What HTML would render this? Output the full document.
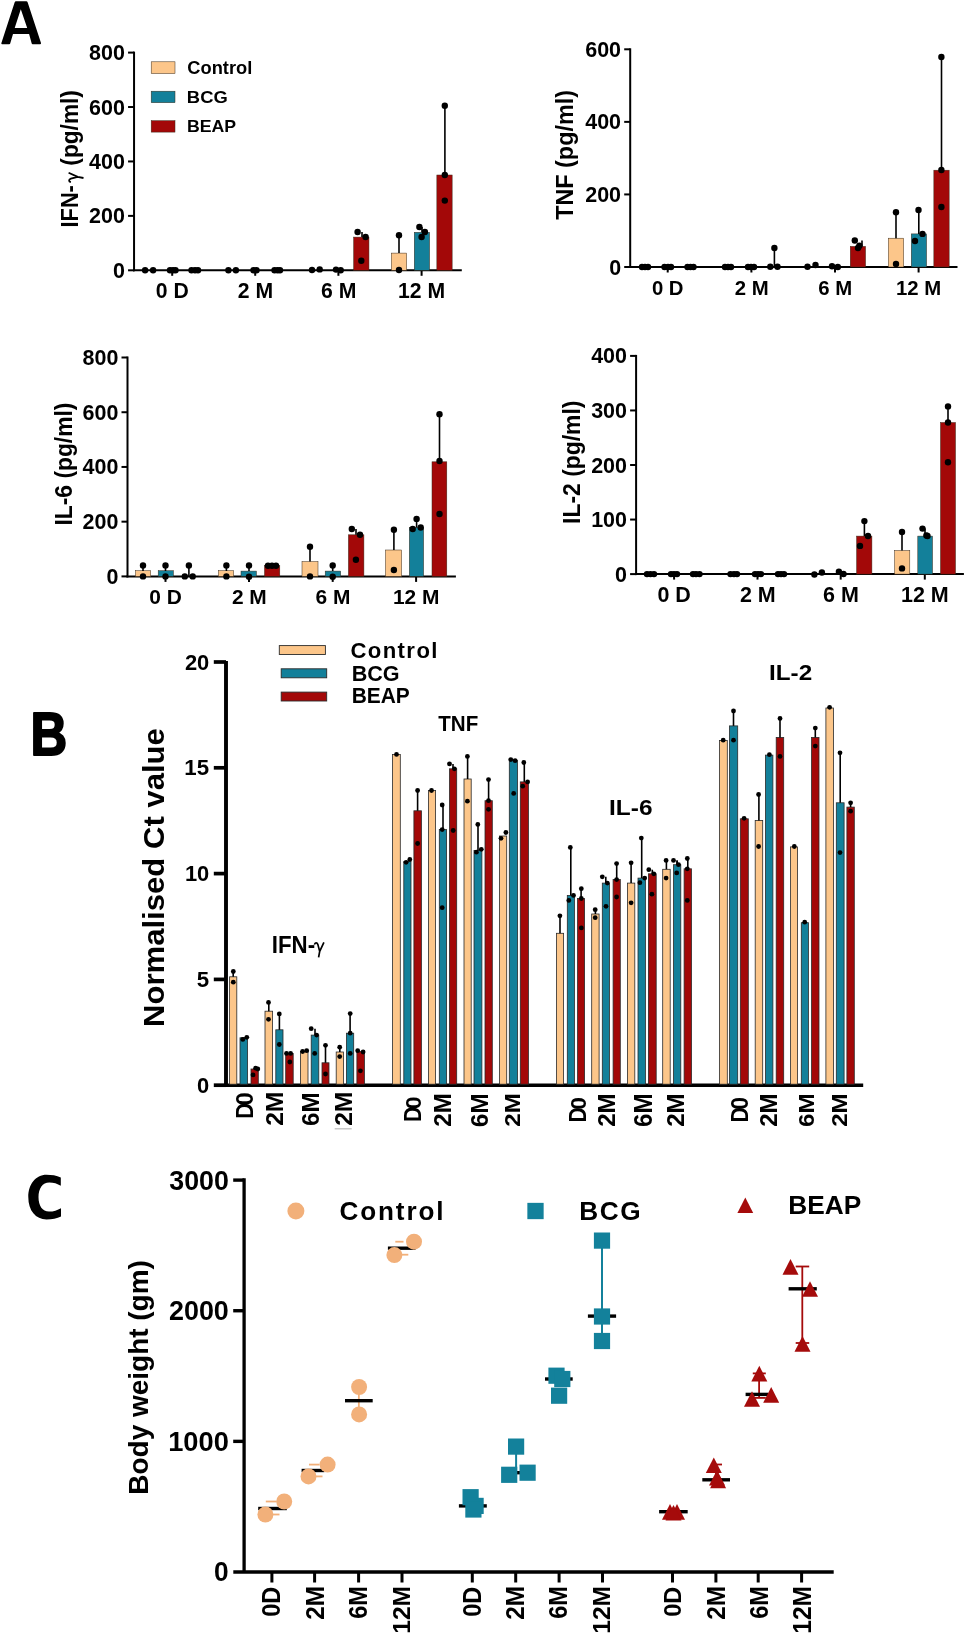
<!DOCTYPE html>
<html><head><meta charset="utf-8"><style>
html,body{margin:0;padding:0;background:#fff;}
svg{display:block;will-change:transform;}
text{font-family:"Liberation Sans",sans-serif;font-weight:bold;font-kerning:none;}
</style></head><body>
<svg width="968" height="1637" viewBox="0 0 968 1637">
<rect width="968" height="1637" fill="#fff"/>
<path fill-rule="evenodd" d="M16,1.3 L26.3,1.3 Q27.3,1.3 27.7,2.4 L41,43 Q41.2,44.3 40,44.3 L32.6,44.3 Q31.9,44.3 31.7,43.6 L29.1,34.1 L13,34.1 L10.2,43.6 Q9.9,44.3 9.2,44.3 L2.2,44.3 Q1,44.3 1.4,43 L14.6,2.4 Q15,1.3 16,1.3 Z M20.8,9.3 L14.7,27.9 L27.2,27.9 Z" fill="#000"/>
<text x="30.4" y="754.6" font-size="61.48" textLength="36.71" lengthAdjust="spacingAndGlyphs" fill="#000" stroke="#000" stroke-width="2" stroke-linejoin="round">B</text>
<path d="M60.8,1177.6 C56.5,1175.5 51.5,1174.8 46.5,1174.8 C35.5,1174.8 28.3,1184.5 28.3,1197.1 C28.3,1211 35.8,1219.4 46.5,1219.4 C52,1219.4 57,1218.5 61,1216.5 L61,1208.2 C57.5,1210.2 53.5,1211.6 49,1211.6 C42.5,1211.6 38.5,1206 38.5,1197 C38.5,1188.5 42.5,1182.5 49.3,1182.5 C53.5,1182.5 57.5,1183.7 60.8,1185.8 Z" fill="#000"/>
<line x1="134.05" y1="51.6" x2="134.05" y2="271.3" stroke="#000" stroke-width="2" stroke-linecap="butt"/>
<line x1="133.05" y1="270.3" x2="461.8" y2="270.3" stroke="#000" stroke-width="2" stroke-linecap="butt"/>
<line x1="128.05" y1="270.3" x2="134.05" y2="270.3" stroke="#000" stroke-width="2" stroke-linecap="butt"/>
<text x="112.98" y="277.8" font-size="21.48" textLength="11.95" lengthAdjust="spacingAndGlyphs" fill="#000">0</text>
<line x1="128.05" y1="215.88" x2="134.05" y2="215.88" stroke="#000" stroke-width="2" stroke-linecap="butt"/>
<text x="89.09" y="223.38" font-size="21.48" textLength="35.84" lengthAdjust="spacingAndGlyphs" fill="#000">200</text>
<line x1="128.05" y1="161.45" x2="134.05" y2="161.45" stroke="#000" stroke-width="2" stroke-linecap="butt"/>
<text x="89.09" y="168.95" font-size="21.48" textLength="35.84" lengthAdjust="spacingAndGlyphs" fill="#000">400</text>
<line x1="128.05" y1="107.03" x2="134.05" y2="107.03" stroke="#000" stroke-width="2" stroke-linecap="butt"/>
<text x="89.09" y="114.53" font-size="21.48" textLength="35.84" lengthAdjust="spacingAndGlyphs" fill="#000">600</text>
<line x1="128.05" y1="52.6" x2="134.05" y2="52.6" stroke="#000" stroke-width="2" stroke-linecap="butt"/>
<text x="89.09" y="60.1" font-size="21.48" textLength="35.84" lengthAdjust="spacingAndGlyphs" fill="#000">800</text>
<line x1="172.2" y1="270.3" x2="172.2" y2="275.8" stroke="#000" stroke-width="2" stroke-linecap="butt"/>
<text x="155.73" y="298.1" font-size="21.2" textLength="32.98" lengthAdjust="spacingAndGlyphs" fill="#000">0 D</text>
<line x1="255.2" y1="270.3" x2="255.2" y2="275.8" stroke="#000" stroke-width="2" stroke-linecap="butt"/>
<text x="237.87" y="298.1" font-size="21.2" textLength="35.33" lengthAdjust="spacingAndGlyphs" fill="#000">2 M</text>
<line x1="338.4" y1="270.3" x2="338.4" y2="275.8" stroke="#000" stroke-width="2" stroke-linecap="butt"/>
<text x="321.05" y="298.1" font-size="21.2" textLength="35.33" lengthAdjust="spacingAndGlyphs" fill="#000">6 M</text>
<line x1="421.6" y1="270.3" x2="421.6" y2="275.8" stroke="#000" stroke-width="2" stroke-linecap="butt"/>
<text x="398.08" y="298.1" font-size="21.2" textLength="47.12" lengthAdjust="spacingAndGlyphs" fill="#000">12 M</text>
<rect x="353.65" y="237.1" width="15.3" height="33.2" fill="#A30808" stroke="#3a2a1a" stroke-width="0.5"/>
<rect x="391.35" y="253.1" width="15.3" height="17.2" fill="#FCC68A" stroke="#3a2a1a" stroke-width="0.5"/>
<rect x="414.25" y="232.3" width="15.3" height="38" fill="#13809A" stroke="#3a2a1a" stroke-width="0.5"/>
<rect x="436.85" y="175" width="15.3" height="95.3" fill="#A30808" stroke="#3a2a1a" stroke-width="0.5"/>
<line x1="399" y1="235.3" x2="399" y2="253" stroke="#000" stroke-width="1.6" stroke-linecap="butt"/>
<line x1="444.9" y1="105.8" x2="444.9" y2="175" stroke="#000" stroke-width="1.6" stroke-linecap="butt"/>
<line x1="422" y1="227" x2="422" y2="232.3" stroke="#000" stroke-width="1.6" stroke-linecap="butt"/>
<line x1="362" y1="232" x2="362" y2="237" stroke="#000" stroke-width="1.6" stroke-linecap="butt"/>
<circle cx="145.1" cy="270.3" r="3.2" fill="#000"/>
<circle cx="153.1" cy="270.3" r="3.2" fill="#000"/>
<circle cx="170" cy="270.3" r="3.2" fill="#000"/>
<circle cx="173" cy="270.3" r="3.2" fill="#000"/>
<circle cx="175.5" cy="270.3" r="3.2" fill="#000"/>
<circle cx="191.5" cy="270.3" r="3.2" fill="#000"/>
<circle cx="195" cy="270.3" r="3.2" fill="#000"/>
<circle cx="198" cy="270.3" r="3.2" fill="#000"/>
<circle cx="228.4" cy="270.3" r="3.2" fill="#000"/>
<circle cx="235.9" cy="270.3" r="3.2" fill="#000"/>
<circle cx="253.5" cy="270.3" r="3.2" fill="#000"/>
<circle cx="256.5" cy="270.3" r="3.2" fill="#000"/>
<circle cx="274.5" cy="270.3" r="3.2" fill="#000"/>
<circle cx="277.5" cy="270.3" r="3.2" fill="#000"/>
<circle cx="280" cy="270.3" r="3.2" fill="#000"/>
<circle cx="312" cy="270" r="3.2" fill="#000"/>
<circle cx="319.7" cy="269.4" r="3.2" fill="#000"/>
<circle cx="336" cy="269.6" r="3.2" fill="#000"/>
<circle cx="340.7" cy="270.3" r="3.2" fill="#000"/>
<circle cx="357.6" cy="232" r="3.2" fill="#000"/>
<circle cx="365.6" cy="237" r="3.2" fill="#000"/>
<circle cx="361.3" cy="260.7" r="3.2" fill="#000"/>
<circle cx="399" cy="235.3" r="3.2" fill="#000"/>
<circle cx="399" cy="270" r="3.2" fill="#000"/>
<circle cx="419.4" cy="227" r="3.2" fill="#000"/>
<circle cx="424.9" cy="232" r="3.2" fill="#000"/>
<circle cx="421.6" cy="237" r="3.2" fill="#000"/>
<circle cx="444.8" cy="105.8" r="3.2" fill="#000"/>
<circle cx="444.8" cy="175" r="3.2" fill="#000"/>
<circle cx="444.8" cy="200.6" r="3.2" fill="#000"/>
<line x1="630.2" y1="48.3" x2="630.2" y2="268" stroke="#000" stroke-width="2" stroke-linecap="butt"/>
<line x1="629.2" y1="267" x2="957.5" y2="267" stroke="#000" stroke-width="2" stroke-linecap="butt"/>
<line x1="624.2" y1="267" x2="630.2" y2="267" stroke="#000" stroke-width="2" stroke-linecap="butt"/>
<text x="609.13" y="274.5" font-size="21.48" textLength="11.95" lengthAdjust="spacingAndGlyphs" fill="#000">0</text>
<line x1="624.2" y1="194.43" x2="630.2" y2="194.43" stroke="#000" stroke-width="2" stroke-linecap="butt"/>
<text x="585.24" y="201.93" font-size="21.48" textLength="35.84" lengthAdjust="spacingAndGlyphs" fill="#000">200</text>
<line x1="624.2" y1="121.87" x2="630.2" y2="121.87" stroke="#000" stroke-width="2" stroke-linecap="butt"/>
<text x="585.24" y="129.37" font-size="21.48" textLength="35.84" lengthAdjust="spacingAndGlyphs" fill="#000">400</text>
<line x1="624.2" y1="49.3" x2="630.2" y2="49.3" stroke="#000" stroke-width="2" stroke-linecap="butt"/>
<text x="585.24" y="56.8" font-size="21.48" textLength="35.84" lengthAdjust="spacingAndGlyphs" fill="#000">600</text>
<line x1="667.7" y1="267" x2="667.7" y2="272.5" stroke="#000" stroke-width="2" stroke-linecap="butt"/>
<text x="651.9" y="295.3" font-size="20.34" textLength="31.65" lengthAdjust="spacingAndGlyphs" fill="#000">0 D</text>
<line x1="751.4" y1="267" x2="751.4" y2="272.5" stroke="#000" stroke-width="2" stroke-linecap="butt"/>
<text x="734.78" y="295.3" font-size="20.34" textLength="33.9" lengthAdjust="spacingAndGlyphs" fill="#000">2 M</text>
<line x1="835" y1="267" x2="835" y2="272.5" stroke="#000" stroke-width="2" stroke-linecap="butt"/>
<text x="818.36" y="295.3" font-size="20.34" textLength="33.9" lengthAdjust="spacingAndGlyphs" fill="#000">6 M</text>
<line x1="918.6" y1="267" x2="918.6" y2="272.5" stroke="#000" stroke-width="2" stroke-linecap="butt"/>
<text x="896.03" y="295.3" font-size="20.34" textLength="45.21" lengthAdjust="spacingAndGlyphs" fill="#000">12 M</text>
<text transform="translate(573.3,219.86) rotate(-90)" font-size="24.24" textLength="129.83" lengthAdjust="spacingAndGlyphs" fill="#000">TNF (pg/ml)</text>
<rect x="850.25" y="246.4" width="15.3" height="20.6" fill="#A30808" stroke="#3a2a1a" stroke-width="0.5"/>
<rect x="888.35" y="238.2" width="15.3" height="28.8" fill="#FCC68A" stroke="#3a2a1a" stroke-width="0.5"/>
<rect x="911.25" y="233.9" width="15.3" height="33.1" fill="#13809A" stroke="#3a2a1a" stroke-width="0.5"/>
<rect x="933.85" y="170.2" width="15.3" height="96.8" fill="#A30808" stroke="#3a2a1a" stroke-width="0.5"/>
<line x1="896" y1="212.3" x2="896" y2="238.2" stroke="#000" stroke-width="1.6" stroke-linecap="butt"/>
<line x1="918.8" y1="210" x2="918.8" y2="233.9" stroke="#000" stroke-width="1.6" stroke-linecap="butt"/>
<line x1="941.5" y1="57" x2="941.5" y2="170.2" stroke="#000" stroke-width="1.6" stroke-linecap="butt"/>
<line x1="774.4" y1="248" x2="774.4" y2="267" stroke="#000" stroke-width="1.6" stroke-linecap="butt"/>
<line x1="862" y1="240.5" x2="862" y2="246.4" stroke="#000" stroke-width="1.6" stroke-linecap="butt"/>
<circle cx="642" cy="267" r="3.2" fill="#000"/>
<circle cx="645" cy="267" r="3.2" fill="#000"/>
<circle cx="648" cy="267" r="3.2" fill="#000"/>
<circle cx="664.5" cy="267" r="3.2" fill="#000"/>
<circle cx="668" cy="267" r="3.2" fill="#000"/>
<circle cx="671" cy="267" r="3.2" fill="#000"/>
<circle cx="687.5" cy="267" r="3.2" fill="#000"/>
<circle cx="690.5" cy="267" r="3.2" fill="#000"/>
<circle cx="693.5" cy="267" r="3.2" fill="#000"/>
<circle cx="725" cy="267" r="3.2" fill="#000"/>
<circle cx="728" cy="267" r="3.2" fill="#000"/>
<circle cx="731" cy="267" r="3.2" fill="#000"/>
<circle cx="748" cy="267" r="3.2" fill="#000"/>
<circle cx="751" cy="267" r="3.2" fill="#000"/>
<circle cx="754" cy="267" r="3.2" fill="#000"/>
<circle cx="770.3" cy="266.8" r="3.2" fill="#000"/>
<circle cx="777.5" cy="266.8" r="3.2" fill="#000"/>
<circle cx="774.4" cy="248" r="3.2" fill="#000"/>
<circle cx="807.5" cy="266.8" r="3.2" fill="#000"/>
<circle cx="815.5" cy="265" r="3.2" fill="#000"/>
<circle cx="832" cy="266.2" r="3.2" fill="#000"/>
<circle cx="837.8" cy="267" r="3.2" fill="#000"/>
<circle cx="854.8" cy="240.5" r="3.2" fill="#000"/>
<circle cx="859.4" cy="245.7" r="3.2" fill="#000"/>
<circle cx="858" cy="248" r="3.2" fill="#000"/>
<circle cx="896" cy="212.3" r="3.2" fill="#000"/>
<circle cx="896" cy="263.9" r="3.2" fill="#000"/>
<circle cx="915" cy="241" r="3.2" fill="#000"/>
<circle cx="922.5" cy="233.9" r="3.2" fill="#000"/>
<circle cx="918.5" cy="210" r="3.2" fill="#000"/>
<circle cx="941.4" cy="57" r="3.2" fill="#000"/>
<circle cx="941.4" cy="170" r="3.2" fill="#000"/>
<circle cx="941.4" cy="207" r="3.2" fill="#000"/>
<line x1="127.5" y1="356.5" x2="127.5" y2="577.4" stroke="#000" stroke-width="2" stroke-linecap="butt"/>
<line x1="126.5" y1="576.4" x2="455.9" y2="576.4" stroke="#000" stroke-width="2" stroke-linecap="butt"/>
<line x1="121.5" y1="576.4" x2="127.5" y2="576.4" stroke="#000" stroke-width="2" stroke-linecap="butt"/>
<text x="106.43" y="583.9" font-size="21.48" textLength="11.95" lengthAdjust="spacingAndGlyphs" fill="#000">0</text>
<line x1="121.5" y1="521.67" x2="127.5" y2="521.67" stroke="#000" stroke-width="2" stroke-linecap="butt"/>
<text x="82.54" y="529.17" font-size="21.48" textLength="35.84" lengthAdjust="spacingAndGlyphs" fill="#000">200</text>
<line x1="121.5" y1="466.95" x2="127.5" y2="466.95" stroke="#000" stroke-width="2" stroke-linecap="butt"/>
<text x="82.54" y="474.45" font-size="21.48" textLength="35.84" lengthAdjust="spacingAndGlyphs" fill="#000">400</text>
<line x1="121.5" y1="412.22" x2="127.5" y2="412.22" stroke="#000" stroke-width="2" stroke-linecap="butt"/>
<text x="82.54" y="419.72" font-size="21.48" textLength="35.84" lengthAdjust="spacingAndGlyphs" fill="#000">600</text>
<line x1="121.5" y1="357.5" x2="127.5" y2="357.5" stroke="#000" stroke-width="2" stroke-linecap="butt"/>
<text x="82.54" y="365" font-size="21.48" textLength="35.84" lengthAdjust="spacingAndGlyphs" fill="#000">800</text>
<line x1="165.5" y1="576.4" x2="165.5" y2="581.9" stroke="#000" stroke-width="2" stroke-linecap="butt"/>
<text x="149.26" y="603.9" font-size="20.91" textLength="32.54" lengthAdjust="spacingAndGlyphs" fill="#000">0 D</text>
<line x1="249" y1="576.4" x2="249" y2="581.9" stroke="#000" stroke-width="2" stroke-linecap="butt"/>
<text x="231.91" y="603.9" font-size="20.91" textLength="34.86" lengthAdjust="spacingAndGlyphs" fill="#000">2 M</text>
<line x1="332.7" y1="576.4" x2="332.7" y2="581.9" stroke="#000" stroke-width="2" stroke-linecap="butt"/>
<text x="315.59" y="603.9" font-size="20.91" textLength="34.86" lengthAdjust="spacingAndGlyphs" fill="#000">6 M</text>
<line x1="416.1" y1="576.4" x2="416.1" y2="581.9" stroke="#000" stroke-width="2" stroke-linecap="butt"/>
<text x="392.9" y="603.9" font-size="20.91" textLength="46.49" lengthAdjust="spacingAndGlyphs" fill="#000">12 M</text>
<text transform="translate(71.8,525.53) rotate(-90)" font-size="24.66" textLength="122.96" lengthAdjust="spacingAndGlyphs" fill="#000">IL-6 (pg/ml)</text>
<rect x="135.5" y="570.7" width="15.2" height="5.7" fill="#FCC68A" stroke="#3a2a1a" stroke-width="0.5"/>
<rect x="158.2" y="570.7" width="15.2" height="5.7" fill="#13809A" stroke="#3a2a1a" stroke-width="0.5"/>
<rect x="218.4" y="570.7" width="15.2" height="5.7" fill="#FCC68A" stroke="#3a2a1a" stroke-width="0.5"/>
<rect x="241" y="571.1" width="15.4" height="5.3" fill="#13809A" stroke="#3a2a1a" stroke-width="0.5"/>
<rect x="264.5" y="565.7" width="15.3" height="10.7" fill="#A30808" stroke="#3a2a1a" stroke-width="0.5"/>
<rect x="302" y="561.6" width="16" height="14.8" fill="#FCC68A" stroke="#3a2a1a" stroke-width="0.5"/>
<rect x="325.2" y="571.1" width="15.5" height="5.3" fill="#13809A" stroke="#3a2a1a" stroke-width="0.5"/>
<rect x="348.4" y="534.8" width="15.5" height="41.6" fill="#A30808" stroke="#3a2a1a" stroke-width="0.5"/>
<rect x="385.5" y="550" width="16.1" height="26.4" fill="#FCC68A" stroke="#3a2a1a" stroke-width="0.5"/>
<rect x="409.3" y="527.5" width="14.3" height="48.9" fill="#13809A" stroke="#3a2a1a" stroke-width="0.5"/>
<rect x="432" y="461.8" width="14.8" height="114.6" fill="#A30808" stroke="#3a2a1a" stroke-width="0.5"/>
<line x1="143" y1="565.5" x2="143" y2="571" stroke="#000" stroke-width="1.6" stroke-linecap="butt"/>
<line x1="165.5" y1="565.5" x2="165.5" y2="571" stroke="#000" stroke-width="1.6" stroke-linecap="butt"/>
<line x1="188.9" y1="565.5" x2="188.9" y2="576" stroke="#000" stroke-width="1.6" stroke-linecap="butt"/>
<line x1="226.4" y1="565.5" x2="226.4" y2="571" stroke="#000" stroke-width="1.6" stroke-linecap="butt"/>
<line x1="249" y1="565.5" x2="249" y2="571" stroke="#000" stroke-width="1.6" stroke-linecap="butt"/>
<line x1="310" y1="546.8" x2="310" y2="561.6" stroke="#000" stroke-width="1.6" stroke-linecap="butt"/>
<line x1="332.7" y1="565.5" x2="332.7" y2="571" stroke="#000" stroke-width="1.6" stroke-linecap="butt"/>
<line x1="356" y1="529" x2="356" y2="534.8" stroke="#000" stroke-width="1.6" stroke-linecap="butt"/>
<line x1="393.9" y1="529.8" x2="393.9" y2="550" stroke="#000" stroke-width="1.6" stroke-linecap="butt"/>
<line x1="416.6" y1="518.9" x2="416.6" y2="527.5" stroke="#000" stroke-width="1.6" stroke-linecap="butt"/>
<line x1="439.5" y1="414.3" x2="439.5" y2="461.8" stroke="#000" stroke-width="1.6" stroke-linecap="butt"/>
<circle cx="143" cy="565.5" r="3.2" fill="#000"/>
<circle cx="143" cy="576.4" r="3.2" fill="#000"/>
<circle cx="165.5" cy="565.5" r="3.2" fill="#000"/>
<circle cx="165.5" cy="576.4" r="3.2" fill="#000"/>
<circle cx="184.8" cy="576.4" r="3.2" fill="#000"/>
<circle cx="188.9" cy="565.5" r="3.2" fill="#000"/>
<circle cx="192.7" cy="576.4" r="3.2" fill="#000"/>
<circle cx="226.4" cy="565.5" r="3.2" fill="#000"/>
<circle cx="226.4" cy="576.4" r="3.2" fill="#000"/>
<circle cx="249" cy="565.5" r="3.2" fill="#000"/>
<circle cx="249" cy="576.8" r="3.2" fill="#000"/>
<circle cx="268" cy="565.7" r="3.2" fill="#000"/>
<circle cx="272" cy="565.7" r="3.2" fill="#000"/>
<circle cx="276" cy="565.7" r="3.2" fill="#000"/>
<circle cx="310" cy="546.8" r="3.2" fill="#000"/>
<circle cx="310" cy="576.4" r="3.2" fill="#000"/>
<circle cx="332.7" cy="565.5" r="3.2" fill="#000"/>
<circle cx="332.7" cy="576.8" r="3.2" fill="#000"/>
<circle cx="351.8" cy="529" r="3.2" fill="#000"/>
<circle cx="360" cy="534.8" r="3.2" fill="#000"/>
<circle cx="355.9" cy="559.8" r="3.2" fill="#000"/>
<circle cx="393.9" cy="529.8" r="3.2" fill="#000"/>
<circle cx="393.9" cy="570" r="3.2" fill="#000"/>
<circle cx="412.7" cy="529" r="3.2" fill="#000"/>
<circle cx="420.7" cy="527.5" r="3.2" fill="#000"/>
<circle cx="416.6" cy="518.9" r="3.2" fill="#000"/>
<circle cx="439.5" cy="414.3" r="3.2" fill="#000"/>
<circle cx="439.5" cy="461" r="3.2" fill="#000"/>
<circle cx="439.5" cy="514" r="3.2" fill="#000"/>
<line x1="636.1" y1="354.9" x2="636.1" y2="575.1" stroke="#000" stroke-width="2" stroke-linecap="butt"/>
<line x1="635.1" y1="574.1" x2="963.9" y2="574.1" stroke="#000" stroke-width="2" stroke-linecap="butt"/>
<line x1="630.1" y1="574.1" x2="636.1" y2="574.1" stroke="#000" stroke-width="2" stroke-linecap="butt"/>
<text x="615.03" y="581.6" font-size="21.48" textLength="11.95" lengthAdjust="spacingAndGlyphs" fill="#000">0</text>
<line x1="630.1" y1="519.55" x2="636.1" y2="519.55" stroke="#000" stroke-width="2" stroke-linecap="butt"/>
<text x="591.14" y="527.05" font-size="21.48" textLength="35.84" lengthAdjust="spacingAndGlyphs" fill="#000">100</text>
<line x1="630.1" y1="465" x2="636.1" y2="465" stroke="#000" stroke-width="2" stroke-linecap="butt"/>
<text x="591.14" y="472.5" font-size="21.48" textLength="35.84" lengthAdjust="spacingAndGlyphs" fill="#000">200</text>
<line x1="630.1" y1="410.45" x2="636.1" y2="410.45" stroke="#000" stroke-width="2" stroke-linecap="butt"/>
<text x="591.14" y="417.95" font-size="21.48" textLength="35.84" lengthAdjust="spacingAndGlyphs" fill="#000">300</text>
<line x1="630.1" y1="355.9" x2="636.1" y2="355.9" stroke="#000" stroke-width="2" stroke-linecap="butt"/>
<text x="591.14" y="363.4" font-size="21.48" textLength="35.84" lengthAdjust="spacingAndGlyphs" fill="#000">400</text>
<line x1="674.1" y1="574.1" x2="674.1" y2="579.6" stroke="#000" stroke-width="2" stroke-linecap="butt"/>
<text x="657.41" y="602.1" font-size="21.48" textLength="33.43" lengthAdjust="spacingAndGlyphs" fill="#000">0 D</text>
<line x1="757.5" y1="574.1" x2="757.5" y2="579.6" stroke="#000" stroke-width="2" stroke-linecap="butt"/>
<text x="739.94" y="602.1" font-size="21.48" textLength="35.81" lengthAdjust="spacingAndGlyphs" fill="#000">2 M</text>
<line x1="840.7" y1="574.1" x2="840.7" y2="579.6" stroke="#000" stroke-width="2" stroke-linecap="butt"/>
<text x="823.12" y="602.1" font-size="21.48" textLength="35.81" lengthAdjust="spacingAndGlyphs" fill="#000">6 M</text>
<line x1="924.8" y1="574.1" x2="924.8" y2="579.6" stroke="#000" stroke-width="2" stroke-linecap="butt"/>
<text x="900.96" y="602.1" font-size="21.48" textLength="47.76" lengthAdjust="spacingAndGlyphs" fill="#000">12 M</text>
<text transform="translate(580,523.93) rotate(-90)" font-size="24.09" textLength="123.37" lengthAdjust="spacingAndGlyphs" fill="#000">IL-2 (pg/ml)</text>
<rect x="856.6" y="536.1" width="15.3" height="38" fill="#A30808" stroke="#3a2a1a" stroke-width="0.5"/>
<rect x="894.6" y="550.5" width="15.2" height="23.6" fill="#FCC68A" stroke="#3a2a1a" stroke-width="0.5"/>
<rect x="917.8" y="536.1" width="14.7" height="38" fill="#13809A" stroke="#3a2a1a" stroke-width="0.5"/>
<rect x="940.5" y="422.5" width="15" height="151.6" fill="#A30808" stroke="#3a2a1a" stroke-width="0.5"/>
<line x1="864.4" y1="521.1" x2="864.4" y2="536.1" stroke="#000" stroke-width="1.6" stroke-linecap="butt"/>
<line x1="902" y1="532" x2="902" y2="550.5" stroke="#000" stroke-width="1.6" stroke-linecap="butt"/>
<line x1="925" y1="528.6" x2="925" y2="536.1" stroke="#000" stroke-width="1.6" stroke-linecap="butt"/>
<line x1="948" y1="406.4" x2="948" y2="422.5" stroke="#000" stroke-width="1.6" stroke-linecap="butt"/>
<circle cx="647" cy="574.1" r="3.2" fill="#000"/>
<circle cx="650.5" cy="574.1" r="3.2" fill="#000"/>
<circle cx="654" cy="574.1" r="3.2" fill="#000"/>
<circle cx="671" cy="574.1" r="3.2" fill="#000"/>
<circle cx="674" cy="574.1" r="3.2" fill="#000"/>
<circle cx="677" cy="574.1" r="3.2" fill="#000"/>
<circle cx="693" cy="574.1" r="3.2" fill="#000"/>
<circle cx="696" cy="574.1" r="3.2" fill="#000"/>
<circle cx="699.5" cy="574.1" r="3.2" fill="#000"/>
<circle cx="730.5" cy="574.1" r="3.2" fill="#000"/>
<circle cx="734" cy="574.1" r="3.2" fill="#000"/>
<circle cx="737" cy="574.1" r="3.2" fill="#000"/>
<circle cx="755" cy="574.1" r="3.2" fill="#000"/>
<circle cx="758" cy="574.1" r="3.2" fill="#000"/>
<circle cx="761" cy="574.1" r="3.2" fill="#000"/>
<circle cx="778" cy="574.1" r="3.2" fill="#000"/>
<circle cx="781" cy="574.1" r="3.2" fill="#000"/>
<circle cx="784" cy="574.1" r="3.2" fill="#000"/>
<circle cx="814.4" cy="574.5" r="3.2" fill="#000"/>
<circle cx="821.9" cy="572.5" r="3.2" fill="#000"/>
<circle cx="838.9" cy="571.8" r="3.2" fill="#000"/>
<circle cx="843.5" cy="574" r="3.2" fill="#000"/>
<circle cx="864.4" cy="521.1" r="3.2" fill="#000"/>
<circle cx="868" cy="536" r="3.2" fill="#000"/>
<circle cx="860" cy="545.9" r="3.2" fill="#000"/>
<circle cx="902" cy="532" r="3.2" fill="#000"/>
<circle cx="902" cy="568.4" r="3.2" fill="#000"/>
<circle cx="922.5" cy="528.6" r="3.2" fill="#000"/>
<circle cx="926.4" cy="535.5" r="3.2" fill="#000"/>
<circle cx="927.5" cy="536" r="3.2" fill="#000"/>
<circle cx="948" cy="406.4" r="3.2" fill="#000"/>
<circle cx="948" cy="422.5" r="3.2" fill="#000"/>
<circle cx="948" cy="462.3" r="3.2" fill="#000"/>
<rect x="151.2" y="61.8" width="23.8" height="11.8" fill="#FCC68A" stroke="#3a2a1a" stroke-width="0.5"/>
<text x="187.35" y="73.6" font-size="17.57" textLength="64.94" lengthAdjust="spacingAndGlyphs" fill="#000">Control</text>
<rect x="151.2" y="91.2" width="23.8" height="11.5" fill="#13809A" stroke="#3a2a1a" stroke-width="0.5"/>
<text x="186.87" y="102.7" font-size="16.76" textLength="40.87" lengthAdjust="spacingAndGlyphs" fill="#000">BCG</text>
<rect x="151.2" y="120.7" width="23.8" height="11.4" fill="#A30808" stroke="#3a2a1a" stroke-width="0.5"/>
<text x="186.92" y="131.9" font-size="17.15" textLength="49.19" lengthAdjust="spacingAndGlyphs" fill="#000">BEAP</text>
<text transform="translate(78.3,227.46) rotate(-90)" font-size="24.3" textLength="42.33" lengthAdjust="spacingAndGlyphs" fill="#000">IFN-</text>
<g transform="translate(78.3,182.5) rotate(-90)"><path d="M0.3,-7.4 C0.9,-9.6 2.9,-10 3.8,-7.4 L5.6,-0.6 M9.8,-9.7 L5.6,-0.6 L4.5,5.2" fill="none" stroke="#000" stroke-width="1.8" stroke-linejoin="round"/></g>
<text transform="translate(78.3,165.63) rotate(-90)" font-size="24.3" textLength="75.56" lengthAdjust="spacingAndGlyphs" fill="#000">(pg/ml)</text>
<line x1="226" y1="661" x2="226" y2="1087.1" stroke="#000" stroke-width="3.9" stroke-linecap="butt"/>
<line x1="224.1" y1="1085.2" x2="863.2" y2="1085.2" stroke="#000" stroke-width="3.6" stroke-linecap="butt"/>
<line x1="213.8" y1="1085.2" x2="226" y2="1085.2" stroke="#000" stroke-width="3.7" stroke-linecap="butt"/>
<text x="197.11" y="1092.85" font-size="21.91" textLength="12.19" lengthAdjust="spacingAndGlyphs" fill="#000">0</text>
<line x1="213.8" y1="979.4" x2="226" y2="979.4" stroke="#000" stroke-width="3.7" stroke-linecap="butt"/>
<text x="196.65" y="987.05" font-size="22.24" textLength="12.37" lengthAdjust="spacingAndGlyphs" fill="#000">5</text>
<line x1="213.8" y1="873.6" x2="226" y2="873.6" stroke="#000" stroke-width="3.7" stroke-linecap="butt"/>
<text x="184.93" y="881.25" font-size="21.91" textLength="24.37" lengthAdjust="spacingAndGlyphs" fill="#000">10</text>
<line x1="213.8" y1="767.8" x2="226" y2="767.8" stroke="#000" stroke-width="3.7" stroke-linecap="butt"/>
<text x="184.28" y="775.45" font-size="22.24" textLength="24.74" lengthAdjust="spacingAndGlyphs" fill="#000">15</text>
<line x1="213.8" y1="662" x2="226" y2="662" stroke="#000" stroke-width="3.7" stroke-linecap="butt"/>
<text x="184.93" y="669.65" font-size="21.91" textLength="24.37" lengthAdjust="spacingAndGlyphs" fill="#000">20</text>
<rect x="229.6" y="976.8" width="7.2" height="107.4" fill="#FCC68A" stroke="#2a2a2a" stroke-width="0.8"/>
<rect x="240" y="1037.8" width="7.6" height="46.4" fill="#13809A" stroke="#2a2a2a" stroke-width="0.8"/>
<rect x="251" y="1069" width="7.3" height="15.2" fill="#A30808" stroke="#2a2a2a" stroke-width="0.8"/>
<rect x="265" y="1011.2" width="7.6" height="73" fill="#FCC68A" stroke="#2a2a2a" stroke-width="0.8"/>
<rect x="275.8" y="1029.8" width="7.2" height="54.4" fill="#13809A" stroke="#2a2a2a" stroke-width="0.8"/>
<rect x="285.7" y="1053.4" width="7.5" height="30.8" fill="#A30808" stroke="#2a2a2a" stroke-width="0.8"/>
<rect x="300.5" y="1051.5" width="7.5" height="32.7" fill="#FCC68A" stroke="#2a2a2a" stroke-width="0.8"/>
<rect x="311.2" y="1035.1" width="7.6" height="49.1" fill="#13809A" stroke="#2a2a2a" stroke-width="0.8"/>
<rect x="322" y="1062.8" width="7" height="21.4" fill="#A30808" stroke="#2a2a2a" stroke-width="0.8"/>
<rect x="336.2" y="1052" width="7.3" height="32.2" fill="#FCC68A" stroke="#2a2a2a" stroke-width="0.8"/>
<rect x="346.4" y="1033.2" width="7.3" height="51" fill="#13809A" stroke="#2a2a2a" stroke-width="0.8"/>
<rect x="356.9" y="1051.5" width="7.5" height="32.7" fill="#A30808" stroke="#2a2a2a" stroke-width="0.8"/>
<rect x="392.5" y="754.4" width="7.8" height="329.8" fill="#FCC68A" stroke="#2a2a2a" stroke-width="0.8"/>
<rect x="403.8" y="861.4" width="7.2" height="222.8" fill="#13809A" stroke="#2a2a2a" stroke-width="0.8"/>
<rect x="413.9" y="810.8" width="7.5" height="273.4" fill="#A30808" stroke="#2a2a2a" stroke-width="0.8"/>
<rect x="428.4" y="790.5" width="7.2" height="293.7" fill="#FCC68A" stroke="#2a2a2a" stroke-width="0.8"/>
<rect x="439.3" y="829.6" width="7.3" height="254.6" fill="#13809A" stroke="#2a2a2a" stroke-width="0.8"/>
<rect x="449.5" y="768.8" width="7.2" height="315.4" fill="#A30808" stroke="#2a2a2a" stroke-width="0.8"/>
<rect x="464" y="779" width="7.2" height="305.2" fill="#FCC68A" stroke="#2a2a2a" stroke-width="0.8"/>
<rect x="474" y="850.4" width="7.9" height="233.8" fill="#13809A" stroke="#2a2a2a" stroke-width="0.8"/>
<rect x="485" y="800.7" width="7.3" height="283.5" fill="#A30808" stroke="#2a2a2a" stroke-width="0.8"/>
<rect x="499.5" y="836" width="7.2" height="248.2" fill="#FCC68A" stroke="#2a2a2a" stroke-width="0.8"/>
<rect x="509.3" y="760.2" width="8.2" height="324" fill="#13809A" stroke="#2a2a2a" stroke-width="0.8"/>
<rect x="520.3" y="781.9" width="8.1" height="302.3" fill="#A30808" stroke="#2a2a2a" stroke-width="0.8"/>
<rect x="556.4" y="933.3" width="7.2" height="150.9" fill="#FCC68A" stroke="#2a2a2a" stroke-width="0.8"/>
<rect x="567.3" y="895.4" width="7.1" height="188.8" fill="#13809A" stroke="#2a2a2a" stroke-width="0.8"/>
<rect x="577.6" y="898.5" width="7" height="185.7" fill="#A30808" stroke="#2a2a2a" stroke-width="0.8"/>
<rect x="591.7" y="914" width="7.4" height="170.2" fill="#FCC68A" stroke="#2a2a2a" stroke-width="0.8"/>
<rect x="602.3" y="883.1" width="7.1" height="201.1" fill="#13809A" stroke="#2a2a2a" stroke-width="0.8"/>
<rect x="613.1" y="879.6" width="7.2" height="204.6" fill="#A30808" stroke="#2a2a2a" stroke-width="0.8"/>
<rect x="627.4" y="883.1" width="7.4" height="201.1" fill="#FCC68A" stroke="#2a2a2a" stroke-width="0.8"/>
<rect x="638" y="878.1" width="7.4" height="206.1" fill="#13809A" stroke="#2a2a2a" stroke-width="0.8"/>
<rect x="648.4" y="873.8" width="7.8" height="210.4" fill="#A30808" stroke="#2a2a2a" stroke-width="0.8"/>
<rect x="662.7" y="869.3" width="7.5" height="214.9" fill="#FCC68A" stroke="#2a2a2a" stroke-width="0.8"/>
<rect x="673.5" y="864.7" width="7.3" height="219.5" fill="#13809A" stroke="#2a2a2a" stroke-width="0.8"/>
<rect x="684.1" y="868.8" width="7.4" height="215.4" fill="#A30808" stroke="#2a2a2a" stroke-width="0.8"/>
<rect x="719.5" y="740.6" width="7.8" height="343.6" fill="#FCC68A" stroke="#2a2a2a" stroke-width="0.8"/>
<rect x="729.4" y="725.9" width="8.3" height="358.3" fill="#13809A" stroke="#2a2a2a" stroke-width="0.8"/>
<rect x="740.3" y="818.8" width="8" height="265.4" fill="#A30808" stroke="#2a2a2a" stroke-width="0.8"/>
<rect x="755.2" y="820.5" width="7.5" height="263.7" fill="#FCC68A" stroke="#2a2a2a" stroke-width="0.8"/>
<rect x="765.5" y="755.1" width="7.4" height="329.1" fill="#13809A" stroke="#2a2a2a" stroke-width="0.8"/>
<rect x="776.2" y="737.4" width="7.5" height="346.8" fill="#A30808" stroke="#2a2a2a" stroke-width="0.8"/>
<rect x="790.6" y="846.9" width="7" height="237.3" fill="#FCC68A" stroke="#2a2a2a" stroke-width="0.8"/>
<rect x="801.3" y="922.7" width="7.1" height="161.5" fill="#13809A" stroke="#2a2a2a" stroke-width="0.8"/>
<rect x="811.6" y="737.4" width="7.4" height="346.8" fill="#A30808" stroke="#2a2a2a" stroke-width="0.8"/>
<rect x="825.9" y="708" width="7.6" height="376.2" fill="#FCC68A" stroke="#2a2a2a" stroke-width="0.8"/>
<rect x="836.3" y="802.8" width="7.8" height="281.4" fill="#13809A" stroke="#2a2a2a" stroke-width="0.8"/>
<rect x="846.9" y="807.1" width="7.4" height="277.1" fill="#A30808" stroke="#2a2a2a" stroke-width="0.8"/>
<line x1="233.2" y1="971.5" x2="233.2" y2="976.8" stroke="#000" stroke-width="1.6" stroke-linecap="butt"/>
<line x1="268.8" y1="1002.4" x2="268.8" y2="1011.2" stroke="#000" stroke-width="1.6" stroke-linecap="butt"/>
<line x1="279.4" y1="1013.9" x2="279.4" y2="1029.8" stroke="#000" stroke-width="1.6" stroke-linecap="butt"/>
<line x1="315" y1="1028.7" x2="315" y2="1035.1" stroke="#000" stroke-width="1.6" stroke-linecap="butt"/>
<line x1="325.5" y1="1045.3" x2="325.5" y2="1062.8" stroke="#000" stroke-width="1.6" stroke-linecap="butt"/>
<line x1="339.8" y1="1047.2" x2="339.8" y2="1052" stroke="#000" stroke-width="1.6" stroke-linecap="butt"/>
<line x1="350.1" y1="1013.6" x2="350.1" y2="1033.2" stroke="#000" stroke-width="1.6" stroke-linecap="butt"/>
<line x1="417.6" y1="790.5" x2="417.6" y2="810.8" stroke="#000" stroke-width="1.6" stroke-linecap="butt"/>
<line x1="443" y1="805" x2="443" y2="829.6" stroke="#000" stroke-width="1.6" stroke-linecap="butt"/>
<line x1="453" y1="763.9" x2="453" y2="768.8" stroke="#000" stroke-width="1.6" stroke-linecap="butt"/>
<line x1="467.6" y1="756.4" x2="467.6" y2="779" stroke="#000" stroke-width="1.6" stroke-linecap="butt"/>
<line x1="478" y1="824.4" x2="478" y2="850.4" stroke="#000" stroke-width="1.6" stroke-linecap="butt"/>
<line x1="488.6" y1="779.6" x2="488.6" y2="800.7" stroke="#000" stroke-width="1.6" stroke-linecap="butt"/>
<line x1="524.3" y1="762.5" x2="524.3" y2="781.9" stroke="#000" stroke-width="1.6" stroke-linecap="butt"/>
<line x1="560" y1="915.8" x2="560" y2="933.3" stroke="#000" stroke-width="1.6" stroke-linecap="butt"/>
<line x1="570.8" y1="847.4" x2="570.8" y2="895.4" stroke="#000" stroke-width="1.6" stroke-linecap="butt"/>
<line x1="581.1" y1="888.7" x2="581.1" y2="898.5" stroke="#000" stroke-width="1.6" stroke-linecap="butt"/>
<line x1="595.4" y1="909.7" x2="595.4" y2="914" stroke="#000" stroke-width="1.6" stroke-linecap="butt"/>
<line x1="616.7" y1="863.6" x2="616.7" y2="879.6" stroke="#000" stroke-width="1.6" stroke-linecap="butt"/>
<line x1="631.1" y1="862.8" x2="631.1" y2="883.1" stroke="#000" stroke-width="1.6" stroke-linecap="butt"/>
<line x1="641.7" y1="838.1" x2="641.7" y2="878.1" stroke="#000" stroke-width="1.6" stroke-linecap="butt"/>
<line x1="652.3" y1="869.7" x2="652.3" y2="873.8" stroke="#000" stroke-width="1.6" stroke-linecap="butt"/>
<line x1="666.4" y1="860.4" x2="666.4" y2="869.3" stroke="#000" stroke-width="1.6" stroke-linecap="butt"/>
<line x1="677" y1="860.4" x2="677" y2="864.7" stroke="#000" stroke-width="1.6" stroke-linecap="butt"/>
<line x1="687.8" y1="858.5" x2="687.8" y2="868.8" stroke="#000" stroke-width="1.6" stroke-linecap="butt"/>
<line x1="605.8" y1="876.8" x2="605.8" y2="883.1" stroke="#000" stroke-width="1.6" stroke-linecap="butt"/>
<line x1="677.2" y1="860.4" x2="677.2" y2="864.7" stroke="#000" stroke-width="1.6" stroke-linecap="butt"/>
<line x1="513.4" y1="759.6" x2="513.4" y2="760.2" stroke="#000" stroke-width="1.6" stroke-linecap="butt"/>
<line x1="244" y1="1037.3" x2="244" y2="1037.8" stroke="#000" stroke-width="1.6" stroke-linecap="butt"/>
<line x1="733.5" y1="711" x2="733.5" y2="725.9" stroke="#000" stroke-width="1.6" stroke-linecap="butt"/>
<line x1="758.9" y1="794.5" x2="758.9" y2="820.5" stroke="#000" stroke-width="1.6" stroke-linecap="butt"/>
<line x1="780" y1="718.4" x2="780" y2="737.4" stroke="#000" stroke-width="1.6" stroke-linecap="butt"/>
<line x1="815.3" y1="728.1" x2="815.3" y2="737.4" stroke="#000" stroke-width="1.6" stroke-linecap="butt"/>
<line x1="840.2" y1="752.8" x2="840.2" y2="802.8" stroke="#000" stroke-width="1.6" stroke-linecap="butt"/>
<line x1="850.6" y1="802.8" x2="850.6" y2="807.1" stroke="#000" stroke-width="1.6" stroke-linecap="butt"/>
<circle cx="233.3" cy="971.5" r="2.4" fill="#000"/>
<circle cx="233.3" cy="982.2" r="2.4" fill="#000"/>
<circle cx="242.8" cy="1039.4" r="2.4" fill="#000"/>
<circle cx="246.8" cy="1037.3" r="2.4" fill="#000"/>
<circle cx="253" cy="1074.9" r="2.4" fill="#000"/>
<circle cx="255.6" cy="1068.2" r="2.4" fill="#000"/>
<circle cx="257.8" cy="1069" r="2.4" fill="#000"/>
<circle cx="268.5" cy="1002.4" r="2.4" fill="#000"/>
<circle cx="268.5" cy="1019.3" r="2.4" fill="#000"/>
<circle cx="279.3" cy="1013.9" r="2.4" fill="#000"/>
<circle cx="279.3" cy="1044.5" r="2.4" fill="#000"/>
<circle cx="286.5" cy="1053.4" r="2.4" fill="#000"/>
<circle cx="290.6" cy="1053.4" r="2.4" fill="#000"/>
<circle cx="289.8" cy="1062" r="2.4" fill="#000"/>
<circle cx="302.6" cy="1051.5" r="2.4" fill="#000"/>
<circle cx="306.7" cy="1050.7" r="2.4" fill="#000"/>
<circle cx="311.2" cy="1028.7" r="2.4" fill="#000"/>
<circle cx="316.6" cy="1035.1" r="2.4" fill="#000"/>
<circle cx="314.7" cy="1053.4" r="2.4" fill="#000"/>
<circle cx="325.5" cy="1045.3" r="2.4" fill="#000"/>
<circle cx="325.5" cy="1074" r="2.4" fill="#000"/>
<circle cx="339.7" cy="1047.2" r="2.4" fill="#000"/>
<circle cx="339.7" cy="1056.6" r="2.4" fill="#000"/>
<circle cx="350.2" cy="1013.6" r="2.4" fill="#000"/>
<circle cx="350.2" cy="1033.2" r="2.4" fill="#000"/>
<circle cx="350.2" cy="1053.4" r="2.4" fill="#000"/>
<circle cx="357.7" cy="1050.7" r="2.4" fill="#000"/>
<circle cx="363.1" cy="1052" r="2.4" fill="#000"/>
<circle cx="360.4" cy="1070.8" r="2.4" fill="#000"/>
<circle cx="396.5" cy="754.4" r="2.4" fill="#000"/>
<circle cx="406.1" cy="862.3" r="2.4" fill="#000"/>
<circle cx="409.8" cy="859.4" r="2.4" fill="#000"/>
<circle cx="417.6" cy="790.5" r="2.4" fill="#000"/>
<circle cx="417.6" cy="843.5" r="2.4" fill="#000"/>
<circle cx="431.5" cy="790.5" r="2.4" fill="#000"/>
<circle cx="442.2" cy="805" r="2.4" fill="#000"/>
<circle cx="442.2" cy="829.6" r="2.4" fill="#000"/>
<circle cx="442.2" cy="907.7" r="2.4" fill="#000"/>
<circle cx="449.5" cy="763.9" r="2.4" fill="#000"/>
<circle cx="454.4" cy="768.8" r="2.4" fill="#000"/>
<circle cx="453.2" cy="830.5" r="2.4" fill="#000"/>
<circle cx="467.4" cy="756.4" r="2.4" fill="#000"/>
<circle cx="467.4" cy="801.2" r="2.4" fill="#000"/>
<circle cx="477.8" cy="824.4" r="2.4" fill="#000"/>
<circle cx="476.4" cy="852.2" r="2.4" fill="#000"/>
<circle cx="481.3" cy="849.3" r="2.4" fill="#000"/>
<circle cx="488.5" cy="779.6" r="2.4" fill="#000"/>
<circle cx="488.5" cy="800.7" r="2.4" fill="#000"/>
<circle cx="488.5" cy="809.3" r="2.4" fill="#000"/>
<circle cx="501" cy="838.3" r="2.4" fill="#000"/>
<circle cx="505.9" cy="832.5" r="2.4" fill="#000"/>
<circle cx="510.8" cy="759.6" r="2.4" fill="#000"/>
<circle cx="515.1" cy="760.7" r="2.4" fill="#000"/>
<circle cx="513.7" cy="793.4" r="2.4" fill="#000"/>
<circle cx="523.8" cy="762.5" r="2.4" fill="#000"/>
<circle cx="527.6" cy="781.9" r="2.4" fill="#000"/>
<circle cx="522.7" cy="786.2" r="2.4" fill="#000"/>
<circle cx="559.9" cy="915.8" r="2.4" fill="#000"/>
<circle cx="570.3" cy="847.4" r="2.4" fill="#000"/>
<circle cx="568.8" cy="900.4" r="2.4" fill="#000"/>
<circle cx="573.5" cy="895.4" r="2.4" fill="#000"/>
<circle cx="581.3" cy="888.7" r="2.4" fill="#000"/>
<circle cx="581.3" cy="898.5" r="2.4" fill="#000"/>
<circle cx="581.3" cy="927.9" r="2.4" fill="#000"/>
<circle cx="595.2" cy="909.7" r="2.4" fill="#000"/>
<circle cx="595.2" cy="917.7" r="2.4" fill="#000"/>
<circle cx="602.3" cy="876.8" r="2.4" fill="#000"/>
<circle cx="607.3" cy="883.1" r="2.4" fill="#000"/>
<circle cx="606" cy="906.3" r="2.4" fill="#000"/>
<circle cx="616.6" cy="863.6" r="2.4" fill="#000"/>
<circle cx="616.6" cy="879.6" r="2.4" fill="#000"/>
<circle cx="616.6" cy="897" r="2.4" fill="#000"/>
<circle cx="631.1" cy="862.8" r="2.4" fill="#000"/>
<circle cx="631.1" cy="902.8" r="2.4" fill="#000"/>
<circle cx="641.3" cy="838.1" r="2.4" fill="#000"/>
<circle cx="639.9" cy="882.7" r="2.4" fill="#000"/>
<circle cx="644.7" cy="878.1" r="2.4" fill="#000"/>
<circle cx="648.8" cy="869.7" r="2.4" fill="#000"/>
<circle cx="653.8" cy="873.8" r="2.4" fill="#000"/>
<circle cx="651.9" cy="894.2" r="2.4" fill="#000"/>
<circle cx="666.1" cy="860.4" r="2.4" fill="#000"/>
<circle cx="666.1" cy="878.1" r="2.4" fill="#000"/>
<circle cx="673.5" cy="860.4" r="2.4" fill="#000"/>
<circle cx="678.5" cy="864.7" r="2.4" fill="#000"/>
<circle cx="676.7" cy="872.9" r="2.4" fill="#000"/>
<circle cx="687.3" cy="858.5" r="2.4" fill="#000"/>
<circle cx="687.3" cy="868.8" r="2.4" fill="#000"/>
<circle cx="687.3" cy="900.4" r="2.4" fill="#000"/>
<circle cx="723.2" cy="740.2" r="2.4" fill="#000"/>
<circle cx="733.5" cy="711" r="2.4" fill="#000"/>
<circle cx="733.5" cy="740.2" r="2.4" fill="#000"/>
<circle cx="744.1" cy="818.3" r="2.4" fill="#000"/>
<circle cx="758.6" cy="794.5" r="2.4" fill="#000"/>
<circle cx="758.6" cy="846.5" r="2.4" fill="#000"/>
<circle cx="769.4" cy="754.7" r="2.4" fill="#000"/>
<circle cx="780" cy="718.4" r="2.4" fill="#000"/>
<circle cx="780" cy="756.4" r="2.4" fill="#000"/>
<circle cx="794.3" cy="846.5" r="2.4" fill="#000"/>
<circle cx="804.7" cy="922.2" r="2.4" fill="#000"/>
<circle cx="815.3" cy="728.1" r="2.4" fill="#000"/>
<circle cx="815.3" cy="746.1" r="2.4" fill="#000"/>
<circle cx="829.6" cy="707.3" r="2.4" fill="#000"/>
<circle cx="840" cy="752.8" r="2.4" fill="#000"/>
<circle cx="840" cy="852.6" r="2.4" fill="#000"/>
<circle cx="850.6" cy="802.8" r="2.4" fill="#000"/>
<circle cx="850.6" cy="811.2" r="2.4" fill="#000"/>
<text x="271.81" y="952.8" font-size="23.55" textLength="43.28" lengthAdjust="spacingAndGlyphs" fill="#000">IFN-</text>
<path d="M314.4,944.6 C315.0,942.4 317.0,942.0 317.9,944.6 L319.7,951.4 M323.9,942.3 L319.7,951.4 L318.6,957.4" fill="none" stroke="#000" stroke-width="1.7" stroke-linejoin="round"/>
<text x="438.27" y="731.2" font-size="22.24" textLength="39.98" lengthAdjust="spacingAndGlyphs" fill="#000">TNF</text>
<text x="609.07" y="814.9" font-size="22.77" textLength="43.42" lengthAdjust="spacingAndGlyphs" fill="#000">IL-6</text>
<text x="769.08" y="680.1" font-size="22.34" textLength="43.09" lengthAdjust="spacingAndGlyphs" fill="#000">IL-2</text>
<rect x="279.3" y="645.6" width="46.1" height="8.9" fill="#FCC68A" stroke="#2a2a2a" stroke-width="0.9"/>
<rect x="281.2" y="668.8" width="45.5" height="9" fill="#13809A" stroke="#2a2a2a" stroke-width="0.9"/>
<rect x="281.2" y="692.1" width="45.5" height="8.9" fill="#A30808" stroke="#2a2a2a" stroke-width="0.9"/>
<text x="350.39" y="657.7" font-size="22.11" textLength="87.07" lengthAdjust="spacing" fill="#000">Control</text>
<text x="351.66" y="680.6" font-size="21.34" textLength="47.98" lengthAdjust="spacingAndGlyphs" fill="#000">BCG</text>
<text x="351.7" y="702.9" font-size="21.66" textLength="58.11" lengthAdjust="spacingAndGlyphs" fill="#000">BEAP</text>
<text transform="translate(163.9,1026.98) rotate(-90)" font-size="30.19" textLength="298.84" lengthAdjust="spacingAndGlyphs" fill="#000">Normalised Ct value</text>
<text transform="translate(252.5,1118.67) rotate(-90)" font-size="24.71" textLength="15.83" lengthAdjust="spacingAndGlyphs" fill="#000">D</text>
<text transform="translate(252.5,1105.42) rotate(-90)" font-size="23.92" textLength="13.19" lengthAdjust="spacingAndGlyphs" fill="#000">0</text>
<text transform="translate(282.8,1125.86) rotate(-90)" font-size="24.49" textLength="34.31" lengthAdjust="spacingAndGlyphs" fill="#000">2M</text>
<text transform="translate(319.2,1125.88) rotate(-90)" font-size="24.49" textLength="33.5" lengthAdjust="spacingAndGlyphs" fill="#000">6M</text>
<text transform="translate(351.7,1125.86) rotate(-90)" font-size="24.35" textLength="34.31" lengthAdjust="spacingAndGlyphs" fill="#000">2M</text>
<text transform="translate(421.1,1122.12) rotate(-90)" font-size="23.55" textLength="15.3" lengthAdjust="spacingAndGlyphs" fill="#000">D</text>
<text transform="translate(421.1,1109.31) rotate(-90)" font-size="22.77" textLength="12.75" lengthAdjust="spacingAndGlyphs" fill="#000">0</text>
<text transform="translate(451.4,1126.73) rotate(-90)" font-size="24.06" textLength="33.45" lengthAdjust="spacingAndGlyphs" fill="#000">2M</text>
<text transform="translate(487.5,1127.3) rotate(-90)" font-size="24.06" textLength="34.04" lengthAdjust="spacingAndGlyphs" fill="#000">6M</text>
<text transform="translate(520.3,1126.73) rotate(-90)" font-size="22.91" textLength="33.45" lengthAdjust="spacingAndGlyphs" fill="#000">2M</text>
<text transform="translate(585.7,1122.4) rotate(-90)" font-size="23.69" textLength="15.17" lengthAdjust="spacingAndGlyphs" fill="#000">D</text>
<text transform="translate(585.7,1109.71) rotate(-90)" font-size="22.91" textLength="12.64" lengthAdjust="spacingAndGlyphs" fill="#000">0</text>
<text transform="translate(615.4,1126.83) rotate(-90)" font-size="24.06" textLength="33.45" lengthAdjust="spacingAndGlyphs" fill="#000">2M</text>
<text transform="translate(652.1,1126.88) rotate(-90)" font-size="24.92" textLength="33.5" lengthAdjust="spacingAndGlyphs" fill="#000">6M</text>
<text transform="translate(683.9,1126.83) rotate(-90)" font-size="24.06" textLength="33.45" lengthAdjust="spacingAndGlyphs" fill="#000">2M</text>
<text transform="translate(748.1,1122.62) rotate(-90)" font-size="23.98" textLength="15.3" lengthAdjust="spacingAndGlyphs" fill="#000">D</text>
<text transform="translate(748.1,1109.81) rotate(-90)" font-size="23.2" textLength="12.75" lengthAdjust="spacingAndGlyphs" fill="#000">0</text>
<text transform="translate(777,1126.83) rotate(-90)" font-size="23.63" textLength="33.45" lengthAdjust="spacingAndGlyphs" fill="#000">2M</text>
<text transform="translate(814,1126.88) rotate(-90)" font-size="22.77" textLength="33.5" lengthAdjust="spacingAndGlyphs" fill="#000">6M</text>
<text transform="translate(847.3,1126.83) rotate(-90)" font-size="22.77" textLength="33.45" lengthAdjust="spacingAndGlyphs" fill="#000">2M</text>
<line x1="334.7" y1="1128.8" x2="351.7" y2="1128.8" stroke="#bbb" stroke-width="1.2" stroke-linecap="butt"/>
<line x1="244.1" y1="1178.2" x2="244.1" y2="1572" stroke="#000" stroke-width="3.3" stroke-linecap="butt"/>
<line x1="233.3" y1="1572" x2="833.7" y2="1572" stroke="#000" stroke-width="3.6" stroke-linecap="butt"/>
<line x1="233.2" y1="1441.37" x2="244.1" y2="1441.37" stroke="#000" stroke-width="3.4" stroke-linecap="butt"/>
<line x1="233.2" y1="1310.73" x2="244.1" y2="1310.73" stroke="#000" stroke-width="3.4" stroke-linecap="butt"/>
<line x1="233.2" y1="1180.1" x2="244.1" y2="1180.1" stroke="#000" stroke-width="3.4" stroke-linecap="butt"/>
<text x="213.96" y="1581.4" font-size="26.92" textLength="14.62" lengthAdjust="spacingAndGlyphs" fill="#000">0</text>
<text x="168.18" y="1450.77" font-size="26.92" textLength="60.63" lengthAdjust="spacingAndGlyphs" fill="#000">1000</text>
<text x="168.97" y="1320.13" font-size="26.92" textLength="59.84" lengthAdjust="spacingAndGlyphs" fill="#000">2000</text>
<text x="169.29" y="1189.5" font-size="26.92" textLength="59.51" lengthAdjust="spacingAndGlyphs" fill="#000">3000</text>
<line x1="271.9" y1="1572" x2="271.9" y2="1582.5" stroke="#000" stroke-width="3" stroke-linecap="butt"/>
<line x1="314.6" y1="1572" x2="314.6" y2="1582.5" stroke="#000" stroke-width="3" stroke-linecap="butt"/>
<line x1="358.6" y1="1572" x2="358.6" y2="1582.5" stroke="#000" stroke-width="3" stroke-linecap="butt"/>
<line x1="402" y1="1572" x2="402" y2="1582.5" stroke="#000" stroke-width="3" stroke-linecap="butt"/>
<line x1="472.3" y1="1572" x2="472.3" y2="1582.5" stroke="#000" stroke-width="3" stroke-linecap="butt"/>
<line x1="515.7" y1="1572" x2="515.7" y2="1582.5" stroke="#000" stroke-width="3" stroke-linecap="butt"/>
<line x1="559.1" y1="1572" x2="559.1" y2="1582.5" stroke="#000" stroke-width="3" stroke-linecap="butt"/>
<line x1="602.5" y1="1572" x2="602.5" y2="1582.5" stroke="#000" stroke-width="3" stroke-linecap="butt"/>
<line x1="672.5" y1="1572" x2="672.5" y2="1582.5" stroke="#000" stroke-width="3" stroke-linecap="butt"/>
<line x1="715.9" y1="1572" x2="715.9" y2="1582.5" stroke="#000" stroke-width="3" stroke-linecap="butt"/>
<line x1="758.2" y1="1572" x2="758.2" y2="1582.5" stroke="#000" stroke-width="3" stroke-linecap="butt"/>
<line x1="801.6" y1="1572" x2="801.6" y2="1582.5" stroke="#000" stroke-width="3" stroke-linecap="butt"/>
<text transform="translate(280.3,1616.73) rotate(-90)" font-size="25.49" textLength="30.12" lengthAdjust="spacingAndGlyphs" fill="#000">0D</text>
<text transform="translate(324.4,1619.85) rotate(-90)" font-size="26.5" textLength="33.88" lengthAdjust="spacingAndGlyphs" fill="#000">2M</text>
<text transform="translate(367.1,1618.87) rotate(-90)" font-size="25.49" textLength="32.85" lengthAdjust="spacingAndGlyphs" fill="#000">6M</text>
<text transform="translate(410,1633.64) rotate(-90)" font-size="24.78" textLength="47.68" lengthAdjust="spacingAndGlyphs" fill="#000">12M</text>
<text transform="translate(481,1616.73) rotate(-90)" font-size="26.5" textLength="30.12" lengthAdjust="spacingAndGlyphs" fill="#000">0D</text>
<text transform="translate(524.4,1619.85) rotate(-90)" font-size="26.5" textLength="33.88" lengthAdjust="spacingAndGlyphs" fill="#000">2M</text>
<text transform="translate(567.1,1618.87) rotate(-90)" font-size="25.49" textLength="32.85" lengthAdjust="spacingAndGlyphs" fill="#000">6M</text>
<text transform="translate(610,1633.64) rotate(-90)" font-size="24.78" textLength="47.68" lengthAdjust="spacingAndGlyphs" fill="#000">12M</text>
<text transform="translate(681.2,1616.73) rotate(-90)" font-size="24.78" textLength="30.12" lengthAdjust="spacingAndGlyphs" fill="#000">0D</text>
<text transform="translate(724.6,1619.85) rotate(-90)" font-size="24.92" textLength="33.88" lengthAdjust="spacingAndGlyphs" fill="#000">2M</text>
<text transform="translate(768,1618.87) rotate(-90)" font-size="26.5" textLength="32.85" lengthAdjust="spacingAndGlyphs" fill="#000">6M</text>
<text transform="translate(811.4,1633.64) rotate(-90)" font-size="26.35" textLength="47.68" lengthAdjust="spacingAndGlyphs" fill="#000">12M</text>
<text transform="translate(147.5,1494.67) rotate(-90)" font-size="27.07" textLength="234.56" lengthAdjust="spacingAndGlyphs" fill="#000">Body weight (gm)</text>
<line x1="265.8" y1="1501.5" x2="276.6" y2="1501.5" stroke="#F2B07A" stroke-width="1.8" stroke-linecap="butt"/>
<line x1="271.2" y1="1514.5" x2="279.5" y2="1514.5" stroke="#F2B07A" stroke-width="1.8" stroke-linecap="butt"/>
<line x1="258.2" y1="1508.5" x2="286.8" y2="1508.5" stroke="#000" stroke-width="3.4" stroke-linecap="butt"/>
<circle cx="265.4" cy="1514.5" r="8" fill="#F2B07A"/>
<circle cx="284.2" cy="1501.5" r="8" fill="#F2B07A"/>
<line x1="309" y1="1464.6" x2="319.5" y2="1464.6" stroke="#F2B07A" stroke-width="1.8" stroke-linecap="butt"/>
<line x1="314" y1="1476.4" x2="322.5" y2="1476.4" stroke="#F2B07A" stroke-width="1.8" stroke-linecap="butt"/>
<line x1="301.6" y1="1470.5" x2="324.4" y2="1470.5" stroke="#000" stroke-width="3.4" stroke-linecap="butt"/>
<circle cx="308.5" cy="1476.4" r="8" fill="#F2B07A"/>
<circle cx="327.6" cy="1464.6" r="8" fill="#F2B07A"/>
<line x1="358.85" y1="1387" x2="358.85" y2="1414.4" stroke="#F2B07A" stroke-width="1.8" stroke-linecap="butt"/>
<line x1="345" y1="1400.7" x2="372.7" y2="1400.7" stroke="#000" stroke-width="3.4" stroke-linecap="butt"/>
<circle cx="359.1" cy="1387" r="8" fill="#F2B07A"/>
<circle cx="359.1" cy="1414.4" r="8" fill="#F2B07A"/>
<line x1="395.3" y1="1241.7" x2="403.5" y2="1241.7" stroke="#F2B07A" stroke-width="1.8" stroke-linecap="butt"/>
<line x1="401.4" y1="1254.7" x2="408.3" y2="1254.7" stroke="#F2B07A" stroke-width="1.8" stroke-linecap="butt"/>
<line x1="387.9" y1="1248.2" x2="415.5" y2="1248.2" stroke="#000" stroke-width="3.4" stroke-linecap="butt"/>
<circle cx="414" cy="1241.7" r="8" fill="#F2B07A"/>
<circle cx="394.4" cy="1255.1" r="8" fill="#F2B07A"/>
<line x1="458.9" y1="1505.9" x2="486.8" y2="1505.9" stroke="#000" stroke-width="3.4" stroke-linecap="butt"/>
<rect x="462.5" y="1489.1" width="16.2" height="16.2" fill="#13819B"/>
<rect x="467.5" y="1497.8" width="16.2" height="16.2" fill="#13819B"/>
<rect x="465.3" y="1501.4" width="16.2" height="16.2" fill="#13819B"/>
<line x1="516.1" y1="1446.6" x2="516.1" y2="1474" stroke="#13819B" stroke-width="2" stroke-linecap="butt"/>
<line x1="502" y1="1472.7" x2="530" y2="1472.7" stroke="#000" stroke-width="3.4" stroke-linecap="butt"/>
<rect x="508" y="1438.5" width="16.2" height="16.2" fill="#13819B"/>
<rect x="501.1" y="1466.7" width="16.2" height="16.2" fill="#13819B"/>
<rect x="519.5" y="1464.6" width="16.2" height="16.2" fill="#13819B"/>
<line x1="545" y1="1379" x2="572.7" y2="1379" stroke="#000" stroke-width="3.4" stroke-linecap="butt"/>
<rect x="548.4" y="1367.6" width="16.2" height="16.2" fill="#13819B"/>
<rect x="554.2" y="1370.9" width="16.2" height="16.2" fill="#13819B"/>
<rect x="551" y="1387.6" width="16.2" height="16.2" fill="#13819B"/>
<line x1="602" y1="1240.6" x2="602" y2="1341" stroke="#13819B" stroke-width="2" stroke-linecap="butt"/>
<line x1="587.9" y1="1316.1" x2="616.1" y2="1316.1" stroke="#000" stroke-width="3.4" stroke-linecap="butt"/>
<rect x="593.9" y="1232.5" width="16.2" height="16.2" fill="#13819B"/>
<rect x="593.9" y="1308.4" width="16.2" height="16.2" fill="#13819B"/>
<rect x="593.9" y="1332.9" width="16.2" height="16.2" fill="#13819B"/>
<line x1="659.1" y1="1511.7" x2="687.7" y2="1511.7" stroke="#000" stroke-width="3.4" stroke-linecap="butt"/>
<polygon points="670,1504.1 662,1519.7 678,1519.7" fill="#A50B0B"/>
<polygon points="677,1504.1 669,1519.7 685,1519.7" fill="#A50B0B"/>
<polygon points="673.5,1505 665.5,1520.6 681.5,1520.6" fill="#A50B0B"/>
<line x1="716" y1="1464.5" x2="716" y2="1480" stroke="#A50B0B" stroke-width="1.8" stroke-linecap="butt"/>
<line x1="713" y1="1464.5" x2="722" y2="1464.5" stroke="#A50B0B" stroke-width="1.8" stroke-linecap="butt"/>
<line x1="713" y1="1480" x2="722" y2="1480" stroke="#A50B0B" stroke-width="1.8" stroke-linecap="butt"/>
<line x1="702.3" y1="1479.8" x2="730" y2="1479.8" stroke="#000" stroke-width="3.4" stroke-linecap="butt"/>
<polygon points="713.8,1457.5 705.8,1473.1 721.8,1473.1" fill="#A50B0B"/>
<polygon points="718.1,1472.7 710.1,1488.3 726.1,1488.3" fill="#A50B0B"/>
<polygon points="717,1470 709,1485.6 725,1485.6" fill="#A50B0B"/>
<line x1="759.1" y1="1373.4" x2="759.1" y2="1397.9" stroke="#A50B0B" stroke-width="1.8" stroke-linecap="butt"/>
<line x1="752.8" y1="1373.4" x2="765.8" y2="1373.4" stroke="#A50B0B" stroke-width="1.8" stroke-linecap="butt"/>
<line x1="752.8" y1="1397.9" x2="765.8" y2="1397.9" stroke="#A50B0B" stroke-width="1.8" stroke-linecap="butt"/>
<line x1="745.6" y1="1394.4" x2="768" y2="1394.4" stroke="#000" stroke-width="3.4" stroke-linecap="butt"/>
<polygon points="759.3,1365.8 751.3,1381.4 767.3,1381.4" fill="#A50B0B"/>
<polygon points="771.2,1387.1 763.2,1402.7 779.2,1402.7" fill="#A50B0B"/>
<polygon points="752,1391.2 744,1406.8 760,1406.8" fill="#A50B0B"/>
<line x1="802.3" y1="1266.5" x2="802.3" y2="1343" stroke="#A50B0B" stroke-width="1.8" stroke-linecap="butt"/>
<line x1="795.7" y1="1266.5" x2="809.2" y2="1266.5" stroke="#A50B0B" stroke-width="1.8" stroke-linecap="butt"/>
<line x1="795.7" y1="1343" x2="809.2" y2="1343" stroke="#A50B0B" stroke-width="1.8" stroke-linecap="butt"/>
<line x1="788.6" y1="1288.8" x2="816.8" y2="1288.8" stroke="#000" stroke-width="3.4" stroke-linecap="butt"/>
<polygon points="790.5,1259.1 782.5,1274.7 798.5,1274.7" fill="#A50B0B"/>
<polygon points="810,1281.2 802,1296.8 818,1296.8" fill="#A50B0B"/>
<polygon points="802.5,1336.1 794.5,1351.7 810.5,1351.7" fill="#A50B0B"/>
<circle cx="295.9" cy="1210.9" r="8.5" fill="#F2B07A"/>
<text x="339.43" y="1219.9" font-size="26.08" textLength="104.12" lengthAdjust="spacing" fill="#000">Control</text>
<rect x="527.35" y="1202.85" width="16.3" height="16.3" fill="#13819B"/>
<text x="579.35" y="1219.9" font-size="26.21" textLength="61.28" lengthAdjust="spacing" fill="#000">BCG</text>
<polygon points="745.3,1197.4 737.4,1212.9 753.2,1212.9" fill="#A50B0B"/>
<text x="788.24" y="1213.9" font-size="25.58" textLength="72.95" lengthAdjust="spacingAndGlyphs" fill="#000">BEAP</text>
</svg>
</body></html>
